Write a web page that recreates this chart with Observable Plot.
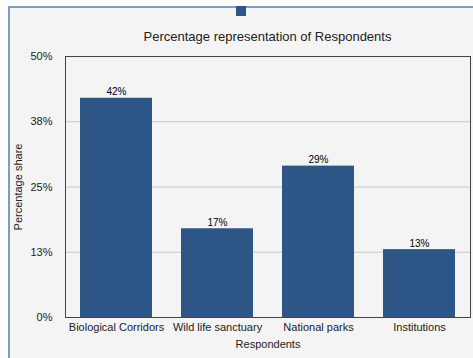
<!DOCTYPE html>
<html><head><meta charset="utf-8">
<script src="https://cdn.jsdelivr.net/npm/d3@7"></script>
<script src="https://cdn.jsdelivr.net/npm/@observablehq/plot@0.6"></script>
<style>
body{margin:0;background:#fff;font-family:"Liberation Sans",Arial,sans-serif;}
#wrap{position:relative;width:473px;height:358px;overflow:hidden;}
#panel{position:absolute;left:8px;top:6px;right:0;bottom:0;background:#f4f4f4;border-left:2px solid #7f9cc0;border-top:2px solid #7f9cc0;}
#swatch{position:absolute;left:236px;top:6px;width:10px;height:10px;background:#2d5586;}
#title{position:absolute;left:65px;width:405px;top:29px;text-align:center;font-size:13px;color:#222;}
#chart{position:absolute;left:0;top:0;}
</style></head>
<body>
<div id="wrap">
  <div id="panel"></div>
  <div id="swatch"></div>
  <div id="title">Percentage representation of Respondents</div>
  <div id="chart"></div>
</div>
<script>
const categories = ["Biological Corridors", "Wild life sanctuary", "National parks", "Institutions"];
const values = [42, 17, 29, 13];
const yTicks = [0, 12.5, 25, 37.5, 50];
const yTickLabels = ["0%", "13%", "25%", "38%", "50%"];
const barColor = "#2d5586";

const data = categories.map((c, i) => ({category: c, value: values[i]}));

const chart = Plot.plot({
  width: 473,
  height: 358,
  marginLeft: 65,
  marginRight: 3,
  marginTop: 56,
  marginBottom: 41,
  style: {background: "transparent", fontFamily: "'Liberation Sans', Arial, sans-serif", fontSize: "11px", color: "#222"},
  x: {domain: categories, paddingInner: 0.29, paddingOuter: 0.145, label: null},
  y: {domain: [0, 50], label: null},
  marks: [
    Plot.gridY(yTicks, {stroke: "#c8c8c8", strokeOpacity: 1}),
    Plot.barY(data, {x: "category", y: "value", fill: barColor}),
    Plot.text(data, {x: "category", y: "value", text: d => d.value + "%", dy: -6, fontSize: 10, fill: "#000"}),
    Plot.axisY(yTicks, {tickSize: 0, tickPadding: 13, tickFormat: (d, i) => yTickLabels[i], label: null, fontSize: 11}),
    Plot.axisX({tickSize: 0, tickPadding: 6, label: null, fontSize: 11}),
    Plot.text(["Percentage share"], {frameAnchor: "left", textAnchor: "middle", dx: -47, rotate: -90, fontSize: 11, fill: "#222"}),
    Plot.text(["Respondents"], {frameAnchor: "bottom", dy: 30, fontSize: 11, fill: "#222"}),
    Plot.frame({stroke: "#444"})
  ]
});
document.getElementById("chart").appendChild(chart);
</script>
</body></html>
